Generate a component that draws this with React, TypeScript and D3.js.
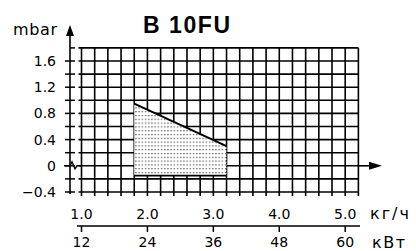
import React from "react";
import * as d3 from "d3";

const title = "B 10FU";
const yUnit = "mbar";
const xUnitTop = "кг/ч";
const xUnitBottom = "кВт";
const kgTicks = [1.0, 2.0, 3.0, 4.0, 5.0];
const kwTicks = [12, 24, 36, 48, 60];
const yTicks = [-0.4, 0, 0.4, 0.8, 1.2, 1.6];
const fieldKg = [1.8, 3.2];
const fieldMax = [0.95, 0.3];
const fieldMin = [-0.15, -0.15];

const W = 416;
const H = 251;

export default function App() {
  const x = d3.scaleLinear().domain([1.0, 5.0]).range([81.5, 345.2]);
  const y = d3.scaleLinear().domain([-0.4, 1.8]).range([192, 47.9]);
  const kw = (v: number) => x(v / 12);
  const gx = d3.range(1.0, 5.2001, 0.2);
  const gy = d3.range(-0.4, 1.8001, 0.2);
  const x0 = x(1.0);
  const x1 = x(5.2);
  const yTop = y(1.8);
  const yBot = y(-0.4);
  const axisX = 70;

  const poly: [number, number][] = [
    [fieldKg[0], fieldMax[0]],
    [fieldKg[1], fieldMax[1]],
    [fieldKg[1], fieldMin[1]],
    [fieldKg[0], fieldMin[0]],
  ];
  const area = d3
    .line<[number, number]>()
    .x((d) => x(d[0]))
    .y((d) => y(d[1]));

  const font = "'DejaVu Sans', sans-serif";
  const y0 = y(0);

  return (
    <svg
      width={W}
      height={H}
      style={{ position: "absolute", left: 0, top: 0, background: "#fff" }}
    >
      <defs>
        <pattern id="dots" width={3.2} height={3.8} patternUnits="userSpaceOnUse">
          <rect width={3.2} height={3.8} fill="#fff" />
          <rect x={1} y={1} width={1.1} height={1.1} fill="#222" />
        </pattern>
      </defs>
      {/* grid */}
      <g stroke="#000" strokeWidth={1.6}>
        {gx.map((v, i) => (
          <line key={"gx" + i} x1={x(v)} x2={x(v)} y1={yTop} y2={yBot + 4} />
        ))}
        {gy.map((v, i) => (
          <line key={"gy" + i} x1={x0 - 3} x2={x1} y1={y(v)} y2={y(v)} />
        ))}
      </g>
      {/* field */}
      <path d={area(poly) + "Z"} fill="url(#dots)" stroke="none" />
      <line
        x1={x(fieldKg[0])}
        y1={y(fieldMax[0])}
        x2={x(fieldKg[1])}
        y2={y(fieldMax[1])}
        stroke="#000"
        strokeWidth={2}
      />
      <line
        x1={x(fieldKg[0])}
        y1={y(fieldMin[0])}
        x2={x(fieldKg[1])}
        y2={y(fieldMin[1])}
        stroke="#000"
        strokeWidth={1.6}
      />
      <line
        x1={x(fieldKg[1])}
        y1={y(fieldMax[1])}
        x2={x(fieldKg[1])}
        y2={y(fieldMin[1])}
        stroke="#000"
        strokeWidth={1}
        strokeDasharray="1.2 1.6"
      />
      {/* y axis */}
      <line x1={axisX} x2={axisX} y1={yBot + 2} y2={34} stroke="#000" strokeWidth={1.6} />
      <path d={`M${axisX},25 L${axisX - 4},36 L${axisX + 4},36 Z`} fill="#000" />
      <g stroke="#000" strokeWidth={1.5}>
        {gy.map((v, i) =>
          i === gy.length - 1 ? (
            <line key={"t" + i} x1={axisX} x2={axisX + 5} y1={y(v)} y2={y(v)} />
          ) : (
            <line key={"t" + i} x1={axisX - 5} x2={axisX + 5} y1={y(v)} y2={y(v)} />
          )
        )}
      </g>
      {/* zero line with break */}
      <path
        d={`M${axisX - 6},${y0} L${axisX},${y0} L${axisX + 2},${y0 - 4} L${axisX + 5},${y0 + 3} L${axisX + 7},${y0} L${x0},${y0}`}
        fill="none"
        stroke="#000"
        strokeWidth={1.4}
      />
      <line x1={x1} x2={372} y1={y0} y2={y0} stroke="#000" strokeWidth={1.6} />
      <path d={`M382,${y0} L369,${y0 - 4} L369,${y0 + 4} Z`} fill="#000" />
      {/* y labels */}
      <g fontFamily={font} fontSize={14} textAnchor="end" fill="#000">
        {yTicks.map((v) => (
          <text key={v} x={56} y={y(v) + 5}>
            {v < 0 ? "\u2212" + Math.abs(v).toFixed(1) : v === 0 ? "0" : v.toFixed(1)}
          </text>
        ))}
      </g>
      <text x={13} y={35} fontFamily={font} fontSize={16} textLength={44} lengthAdjust="spacing" fill="#000">
        {yUnit}
      </text>
      <text
        x={143}
        y={33}
        fontFamily="'Liberation Sans', Arial, sans-serif"
        fontWeight="bold"
        fontSize={23}
        textLength={87}
        lengthAdjust="spacing"
        fill="#000"
      >
        {title}
      </text>
      {/* x labels */}
      <g fontFamily={font} fontSize={14} textAnchor="middle" fill="#000">
        {kgTicks.map((v) => (
          <text key={v} x={x(v)} y={219}>
            {v.toFixed(1)}
          </text>
        ))}
        {kwTicks.map((v) => (
          <text key={v} x={kw(v)} y={247}>
            {v}
          </text>
        ))}
      </g>
      <line x1={77} x2={360} y1={226} y2={226} stroke="#000" strokeWidth={1.5} />
      <g stroke="#000" strokeWidth={1.5}>
        {kwTicks.map((v) => (
          <line key={v} x1={kw(v)} x2={kw(v)} y1={226} y2={232} />
        ))}
      </g>
      <text x={370} y={219} fontFamily={font} fontSize={16} letterSpacing={2} fill="#000">
        {xUnitTop}
      </text>
      <text x={372} y={248} fontFamily={font} fontSize={16} letterSpacing={1.5} fill="#000">
        {xUnitBottom}
      </text>
    </svg>
  );
}
